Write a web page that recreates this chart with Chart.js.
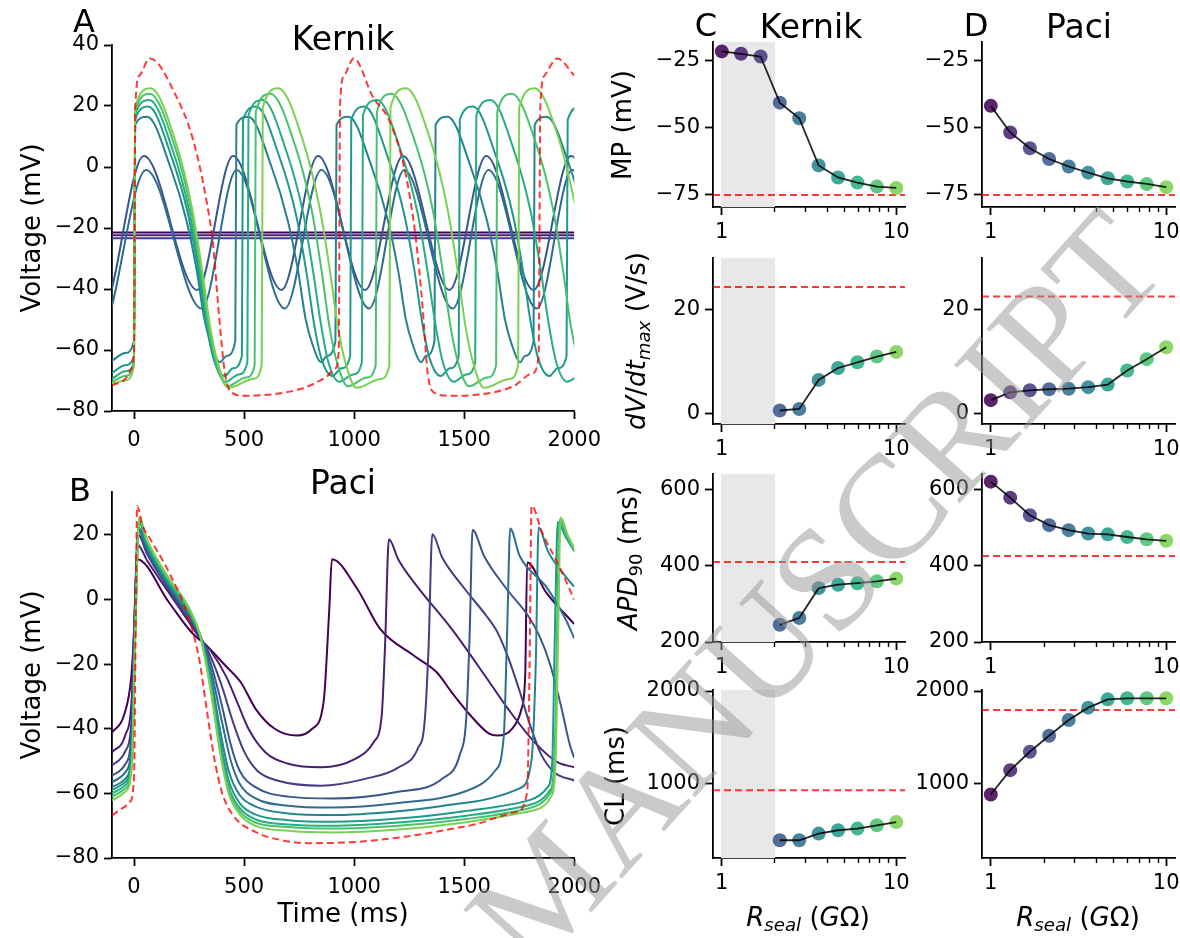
<!DOCTYPE html>
<html><head><meta charset="utf-8">
<script src="https://cdn.jsdelivr.net/npm/chart.js@4.4.0/dist/chart.umd.min.js"></script>
<style>
html,body{margin:0;padding:0;background:#fff;}
#fig{position:relative;width:1180px;height:938px;overflow:hidden;font-family:'DejaVu Sans',sans-serif;color:#000;background:#fff;}
#fig canvas{position:absolute;}
.lbl{position:absolute;white-space:nowrap;line-height:1;transform:translate(-50%,-50%);}
.sub{font-size:0.7em;position:relative;top:0.28em;}
#wm{position:absolute;white-space:nowrap;line-height:1;font-family:'Liberation Serif',serif;color:rgba(150,150,150,0.5);transform-origin:0 50%;z-index:10;pointer-events:none;}
</style></head><body><div id="fig"></div>
<script>
// ------------------------- DATA -------------------------
const timeTicks = [0, 500, 1000, 1500, 2000];
const kernikVoltTicks = [-80, -60, -40, -20, 0, 20, 40];
const paciVoltTicks = [-80, -60, -40, -20, 0, 20];
const rseal = [1, 1.29, 1.67, 2.15, 2.78, 3.59, 4.64, 5.99, 7.74, 10];
const rsealMajorTicks = [1, 10];
const rsealMinorTicks = [2, 3, 4, 5, 6, 7, 8, 9];
const mpTicks = [-75, -50, -25];
const dvdtTicks = [0, 20];
const apdTicks = [200, 400, 600];
const clTicks = [1000, 2000];

const kernikMP   = [-21.5, -22.4, -23.4, -40.6, -46.4, -64.0, -68.5, -70.4, -71.9, -72.4];
const kernikDVDT = [null, null, null, 0.6, 0.9, 6.5, 8.8, 9.9, 11.0, 11.9];
const kernikAPD  = [null, null, null, 245, 263, 341, 350, 354, 359, 366];
const kernikCL   = [null, null, null, 386, 386, 458, 494, 512, 548, 583];
const paciMP     = [-41.8, -51.7, -57.6, -61.6, -64.4, -66.7, -68.8, -70.0, -70.9, -72.1];
const paciDVDT   = [2.6, 4.1, 4.5, 4.7, 4.8, 5.1, 5.6, 8.3, 10.5, 12.8];
const paciAPD    = [620, 578, 532, 506, 493, 484, 482, 475, 469, 465];
const paciCL     = [881, 1144, 1343, 1516, 1686, 1820, 1910, 1921, 1921, 1921];
// control (baseline) values: MP, dV/dt, APD90, CL
const kernikControl = [-75, 24.4, 409.5, 927];
const paciControl   = [-75, 22.6, 425, 1794];
// Rseal range where Kernik does not fire
const kernikNoAPBand = [0.99, 2.02];

// Kernik voltage traces [time ms, mV]
const kernikV0 = [[-100,-21.5],[2000,-21.5]];
const kernikV1 = [[-100,-22.4],[2000,-22.4]];
const kernikV2 = [[-100,-23.4],[2000,-23.4]];
const kernikV3 = [[-100,-39.8],[45,3.6],[287,-40.3],[450,3.6],[670,-40.3],[836,3.6],[1050,-40.3],[1222,3.6],[1433,-40.3],[1600,3.6],[1815,-40.3],[1985,3.6],[2200,-40.3]];
const kernikV4 = [[-100,-45.5],[55,-1],[307,-46.4],[466,-1],[685,-46.4],[851,-1],[1068,-46.4],[1228,-1],[1448,-46.4],[1610,-1],[1830,-46.4],[1990,-1],[2210,-46.4]];
const kernikV5 = [[-100,-63.5],[-40,-61],[0,-57],[5,13.8],[60,16.5],[165,0],[240,-18],[285,-34],[320,-50],[350,-58],[390,-64],[420,-62],
  [460,-57],[465,13.8],[520,16.5],[625,0],[700,-18],[745,-34],[780,-50],[810,-58],[850,-64],[875,-62],
  [915,-57],[920,13.8],[975,16.5],[1080,0],[1155,-18],[1200,-34],[1235,-50],[1265,-58],[1305,-64],[1325,-62],
  [1365,-57],[1370,13.8],[1425,16.5],[1530,0],[1605,-18],[1650,-34],[1685,-50],[1715,-58],[1755,-64],[1775,-62],
  [1815,-57],[1820,13.8],[1875,16.5],[1980,0],[2055,-18]];
const kernikV6 = [[-100,-67.5],[-40,-65],[0,-62],[5,15.5],[65,19.8],[172,3],[247,-16],[292,-34],[327,-51],[362,-63],[412,-68.5],[450,-66],
  [490,-62],[495,15.5],[555,19.8],[662,3],[737,-16],[782,-34],[817,-51],[852,-63],[902,-68.5],[942,-66],
  [982,-62],[987,15.5],[1047,19.8],[1154,3],[1229,-16],[1274,-34],[1309,-51],[1344,-63],[1394,-68.5],[1435,-66],
  [1475,-62],[1480,15.5],[1540,19.8],[1647,3],[1722,-16],[1767,-34],[1802,-51],[1837,-63],[1887,-68.5],[1925,-66],
  [1965,-62],[1970,15.5],[2030,19.8]];
const kernikV7 = [[-100,-69.5],[-40,-67],[0,-64],[5,17],[70,22],[178,5],[253,-15],[298,-34],[333,-51],[368,-64],[418,-70.4],[475,-68],
  [515,-64],[520,17],[585,22],[693,5],[768,-15],[813,-34],[848,-51],[883,-64],[933,-70.4],[995,-68],
  [1035,-64],[1040,17],[1105,22],[1213,5],[1288,-15],[1333,-34],[1368,-51],[1403,-64],[1453,-70.4],[1510,-68],
  [1550,-64],[1555,17],[1620,22],[1728,5],[1803,-15],[1848,-34],[1883,-51],[1918,-64],[1968,-70.4],[2025,-68]];
const kernikV8 = [[-100,-70.5],[-40,-68.5],[0,-65],[5,18],[72,24],[184,7],[259,-14],[304,-34],[339,-52],[374,-64],[424,-71.9],[508,-69],
  [548,-65],[553,18],[620,24],[732,7],[807,-14],[852,-34],[887,-52],[922,-64],[972,-71.9],[1058,-69],
  [1098,-65],[1103,18],[1170,24],[1282,7],[1357,-14],[1402,-34],[1437,-52],[1472,-64],[1522,-71.9],[1605,-69],
  [1645,-65],[1650,18],[1717,24],[1829,7],[1904,-14],[1949,-34],[1984,-52],[2019,-64]];
const kernikV9 = [[-100,-71],[-40,-70],[0,-65],[5,19.5],[75,25.8],[190,8],[265,-14],[310,-34],[345,-52],[380,-64],[430,-72.4],[540,-69.5],
  [580,-65],[585,19.5],[655,25.8],[770,8],[845,-14],[890,-34],[925,-52],[960,-64],[1010,-72.4],[1120,-69.5],
  [1160,-65],[1165,19.5],[1235,25.8],[1350,8],[1425,-14],[1470,-34],[1505,-52],[1540,-64],[1590,-72.4],[1705,-69.5],
  [1745,-65],[1750,19.5],[1820,25.8],[1935,8],[2010,-14]];
const kernikCtrlV = [[-100,-71.6],[-40,-69.5],[-10,-66],[0,-60],[6,20],[25,30],[72,35.6],[193,23],[268,9],[329,-11],[360,-26],[383,-46],[413,-67.6],[444,-74],[500,-75],
  [760,-72.7],[870,-69],[915,-66],[930,-60],[936,20],[955,30],[998,35.6],[1085,23],[1161,15],[1236,-3],[1281,-24],[1311,-46],[1334,-67.6],[1364,-74],[1430,-75],
  [1720,-72],[1810,-67.6],[1838,-62],[1846,20],[1865,30],[1923,35.6],[2000,30]];

// Paci voltage traces [time ms, mV]
const paciV0 = [[-100,-41.1],[-46,-35.9],[-12,-23.6],[0,-10],[14,12.5],[159,-0.9],[262,-10.2],[330,-14.3],[416,-20.5],[485,-25.6],[553,-33.9],[639,-40],[741,-42.1],[810,-40],[861,-31.8],[887,-3],[899,12.5],
  [1015,3.2],[1118,-9.1],[1272,-17.4],[1375,-22.5],[1443,-28.7],[1529,-35.9],[1615,-41.6],[1649,-42.1],[1717,-40],[1760,-33.9],[1777,-23.6],[1786,11.5],[1872,2.2],[2000,-7.6]];
const paciV1 = [[-100,-47.3],[-40,-42],[-10,-30],[2,-5],[16,17],[60,12],[150,3],[250,-7],[300,-12],[350,-16],[420,-24],[470,-32],[520,-40],[600,-47.5],[700,-50.8],[850,-51.9],[1000,-49.5],[1090,-44],[1125,-36],[1140,-15],[1158,18.7],
  [1200,12.5],[1272,5.3],[1443,-9.1],[1615,-25.6],[1700,-33.9],[1820,-44.2],[1923,-50.3],[2000,-51.9]];
const paciV2 = [[-100,-51.4],[-40,-47],[-10,-36],[3,-5],[18,20.2],[60,14],[150,4],[250,-6],[300,-11.5],[350,-18],[400,-27],[450,-38],[500,-47],[560,-53],[650,-56],[850,-57.6],[1050,-55.5],[1200,-52],[1290,-46],[1320,-38],[1338,-15],[1355,20.2],
  [1400,13],[1500,3.5],[1600,-5],[1650,-10],[1700,-18],[1750,-28],[1800,-39],[1850,-48],[1910,-53.5],[2000,-56]];
const paciV3 = [[-100,-54.5],[-40,-51],[-10,-40],[4,-5],[19,21.5],[60,15],[150,4.5],[250,-5.5],[300,-11],[350,-20],[400,-33],[440,-45],[480,-53],[550,-58],[700,-61],[900,-61.6],[1200,-59.5],[1400,-55.5],[1480,-48],[1510,-36],[1525,-10],[1538,21.5],
  [1590,13.5],[1690,3.5],[1790,-5],[1840,-11],[1890,-20],[1940,-33],[1980,-45],[2000,-49]];
const paciV4 = [[-100,-56.5],[-40,-53.5],[-10,-44],[5,-5],[20,22],[60,15.5],[150,5],[250,-5],[300,-11],[350,-22],[400,-38],[440,-50],[480,-57],[550,-61.5],[700,-63.8],[900,-64.4],[1200,-63],[1500,-59.5],[1640,-53],[1680,-42],[1695,-10],[1709,22],
  [1752,13.5],[1872,4],[1960,-6],[2000,-12]];
const paciV5 = [[-100,-58],[-40,-55.5],[-10,-47],[6,-5],[21,22.3],[60,16],[150,5.5],[250,-4.5],[300,-11],[350,-24],[390,-40],[430,-53],[480,-60.5],[550,-64],[700,-66.2],[900,-66.7],[1200,-65.5],[1500,-63],[1750,-58.5],[1805,-50],[1825,-20],[1838,22.3],
  [1880,15],[1950,8],[2000,4]];
const paciV6 = [[-100,-59],[-40,-56.5],[-10,-49],[7,-5],[22,24],[60,17],[150,6],[250,-4],[300,-11],[350,-26],[390,-43],[430,-56],[480,-63],[550,-66.5],[700,-68.3],[900,-68.8],[1200,-67.8],[1500,-65.5],[1800,-62],[1880,-58],[1900,-50],[1912,-10],[1925,24],
  [1960,19.5],[2000,15]];
const paciV7 = [[-100,-60],[-40,-57.5],[-10,-50],[7,-5],[22,24.5],[60,17.5],[150,6.5],[250,-3.5],[300,-11],[350,-27],[390,-45],[430,-58],[480,-64.5],[550,-68],[700,-69.6],[900,-70],[1200,-69],[1500,-67],[1800,-63.5],[1890,-59],[1910,-50],[1922,-10],[1933,24.5],
  [1965,19.5],[2000,15]];
const paciV8 = [[-100,-61],[-40,-58.5],[-10,-51],[8,-5],[23,25],[60,18],[150,7],[250,-3],[300,-11],[350,-28],[390,-46],[430,-59],[480,-65.5],[550,-69],[700,-70.4],[900,-70.9],[1200,-70],[1500,-68],[1800,-64.5],[1890,-60],[1912,-50],[1924,-10],[1935,25],
  [1967,20],[2000,15.5]];
const paciV9 = [[-100,-62.2],[-40,-59.5],[-10,-52],[8,-5],[23,25.4],[60,18.5],[150,7.5],[250,-2.5],[300,-11],[350,-29],[390,-47],[430,-60],[480,-66.5],[550,-70],[700,-71.6],[900,-72.1],[1200,-71.2],[1500,-69],[1800,-65.5],[1895,-61],[1915,-50],[1927,-10],[1938,25.4],
  [1970,20],[2000,16]];
const paciCtrlV = [[-100,-66.8],[-50,-64.5],[-20,-62.7],[0,-55],[8,-5],[14,29],[39,22.8],[74,18.7],[159,8.4],[245,-5],[296,-18.4],[330,-33.9],[365,-49.3],[399,-59.6],[450,-66.8],[553,-72],[673,-74.5],[793,-75.4],[1015,-75],[1272,-73],[1529,-69.9],[1735,-65.8],[1786,-59.6],[1797,-20],[1806,29],[1854,20.7],[1923,11.5],[2000,0]];

// ------------------------- STYLE -------------------------
const FONT = "'DejaVu Sans', sans-serif";
const TICK_SIZE = 21;
const LABEL_SIZE = 26;
const TITLE_SIZE = 33;
const viridis10 = ['#440154','#482071','#433d84','#39568c','#2e6d8e','#26828e','#1f998a','#27ad81','#48c16e','#7ad151'];
const RED = 'rgba(255,0,0,0.78)';

const fig = document.getElementById('fig');
function addCanvas(left, top, w, h){
  const c = document.createElement('canvas');
  c.width = w; c.height = h;
  c.style.left = left + 'px'; c.style.top = top + 'px';
  c.style.width = w + 'px'; c.style.height = h + 'px';
  fig.appendChild(c);
  return c;
}
function addText(html, x, y, size, rotate){
  const d = document.createElement('div');
  d.className = 'lbl';
  d.innerHTML = html;
  d.style.left = x + 'px'; d.style.top = y + 'px';
  d.style.fontSize = size + 'px';
  if (rotate) d.style.transform = 'translate(-50%,-50%) rotate(-90deg)';
  fig.appendChild(d);
  return d;
}
const fmtNum = v => (v < 0 ? '\u2212' : '') + Math.abs(v);

function scaleOpts(type, min, max, tickVals, fitKey, fitVal, cb, pad){
  return {
    type, min, max,
    afterBuildTicks: s => { s.ticks = tickVals.map(v => ({value: v})); },
    afterFit: s => { s[fitKey] = fitVal; },
    grid: {display: true, drawOnChartArea: false, drawTicks: true, tickLength: 8, tickWidth: 1.8, tickColor: '#000'},
    border: {display: true, color: '#000', width: 1.8},
    ticks: {font: {family: FONT, size: TICK_SIZE}, color: '#000', padding: pad, autoSkip: false, maxRotation: 0, minRotation: 0, callback: cb}
  };
}

// shaded "no AP" band and short minor ticks on the log axis, both positioned through the x scale
const bandPlugin = {
  id: 'band',
  beforeDatasetsDraw(chart, args, opts){
    if (!opts || !opts.range) return;
    const {ctx, chartArea, scales} = chart;
    const x0 = scales.x.getPixelForValue(opts.range[0]);
    const x1 = scales.x.getPixelForValue(opts.range[1]);
    ctx.save();
    ctx.fillStyle = '#e8e8e8';
    ctx.fillRect(x0, chartArea.top, x1 - x0, chartArea.bottom - chartArea.top);
    ctx.restore();
  }
};
const minorTickPlugin = {
  id: 'minorTicks',
  afterDraw(chart, args, opts){
    if (!opts || !opts.values) return;
    const {ctx, chartArea, scales} = chart;
    ctx.save();
    ctx.strokeStyle = '#000';
    ctx.lineWidth = 1.4;
    opts.values.forEach(v => {
      const px = Math.round(scales.x.getPixelForValue(v)) + 0.5;
      ctx.beginPath();
      ctx.moveTo(px, chartArea.bottom);
      ctx.lineTo(px, chartArea.bottom + 5);
      ctx.stroke();
    });
    ctx.restore();
  }
};

function tracePanel(cfg){
  const canvas = addCanvas(cfg.left, cfg.top, cfg.w, cfg.h);
  const datasets = cfg.traces.map((tr, i) => ({
    data: tr.map(p => ({x: p[0], y: p[1]})),
    borderColor: viridis10[i], borderWidth: 2, pointRadius: 0,
    cubicInterpolationMode: 'monotone', order: 20 - i
  }));
  datasets.push({
    data: cfg.control.map(p => ({x: p[0], y: p[1]})),
    borderColor: RED, borderWidth: 2, borderDash: [7, 4], pointRadius: 0,
    cubicInterpolationMode: 'monotone', order: 0
  });
  new Chart(canvas, {
    type: 'line',
    data: {datasets},
    options: {
      animation: false, responsive: false, devicePixelRatio: 1,
      events: [],
      layout: {padding: {top: cfg.padTop, right: cfg.padRight, left: 0, bottom: 0}},
      plugins: {legend: {display: false}, tooltip: {enabled: false}, title: {display: false}},
      scales: {
        x: scaleOpts('linear', -100, 2000, timeTicks, 'height', cfg.xH, v => String(v), 9),
        y: scaleOpts('linear', cfg.yMin, cfg.yMax, cfg.yTicks, 'width', cfg.yW, v => fmtNum(v), 5)
      }
    }
  });
}

const LOG_MIN = 0.891, LOG_MAX = 11.22;
function metricPanel(cfg){
  const canvas = addCanvas(cfg.left, cfg.top, cfg.w, cfg.h);
  const ptColors = viridis10.map(c => c + 'dd');
  const datasets = [
    {data: [{x: LOG_MIN, y: cfg.control}, {x: LOG_MAX, y: cfg.control}], borderColor: RED, borderWidth: 2, borderDash: [7, 4], pointRadius: 0, order: 3},
    {data: rseal.map((x, i) => ({x, y: cfg.values[i]})), showLine: false, pointRadius: 7, pointBorderWidth: 0,
     pointBackgroundColor: ptColors, borderColor: 'transparent', order: 2, clip: false},
    {data: rseal.map((x, i) => ({x, y: cfg.values[i]})), borderColor: 'rgba(0,0,0,0.85)', borderWidth: 1.8, pointRadius: 0, tension: 0, spanGaps: false, order: 1}
  ];
  new Chart(canvas, {
    type: 'line',
    data: {datasets},
    plugins: [bandPlugin, minorTickPlugin],
    options: {
      animation: false, responsive: false, devicePixelRatio: 1,
      events: [],
      layout: {padding: {top: cfg.padTop, right: cfg.padRight, left: 0, bottom: 0}},
      plugins: {legend: {display: false}, tooltip: {enabled: false}, band: {range: cfg.band || null}, minorTicks: {values: rsealMinorTicks}},
      scales: {
        x: scaleOpts('logarithmic', LOG_MIN, LOG_MAX, rsealMajorTicks, 'height', cfg.xH, v => String(v), 5),
        y: scaleOpts('linear', cfg.yMin, cfg.yMax, cfg.yTicks, 'width', cfg.yW, v => fmtNum(v), 5)
      }
    }
  });
}

// ------------------------- PANELS -------------------------
tracePanel({left: 0, top: 0, w: 610, h: 450, padTop: 45, padRight: 35, yW: 112, xH: 39,
  yMin: -80, yMax: 40, yTicks: kernikVoltTicks,
  traces: [kernikV0, kernikV1, kernikV2, kernikV3, kernikV4, kernikV5, kernikV6, kernikV7, kernikV8, kernikV9], control: kernikCtrlV});
tracePanel({left: 0, top: 450, w: 610, h: 488, padTop: 42, padRight: 35, yW: 112, xH: 80,
  yMin: -80, yMax: 33.3, yTicks: paciVoltTicks,
  traces: [paciV0, paciV1, paciV2, paciV3, paciV4, paciV5, paciV6, paciV7, paciV8, paciV9], control: paciCtrlV});

const rows = [
  {top: 0,   h: 245, xH: 38, yMin: -79.5, yMax: -18, yTicks: mpTicks,   k: kernikMP,   p: paciMP,   i: 0},
  {top: 216, h: 245, xH: 37, yMin: -2,    yMax: 30,  yTicks: dvdtTicks, k: kernikDVDT, p: paciDVDT, i: 1},
  {top: 432, h: 245, xH: 35, yMin: 200,   yMax: 640, yTicks: apdTicks,  k: kernikAPD,  p: paciAPD,  i: 2},
  {top: 648, h: 290, xH: 80, yMin: 194,   yMax: 2011, yTicks: clTicks,  k: kernikCL,   p: paciCL,   i: 3}
];
rows.forEach(r => {
  metricPanel({left: 590, top: r.top, w: 330, h: r.h, padTop: 42, padRight: 15, yW: 123, xH: r.xH,
    yMin: r.yMin, yMax: r.yMax, yTicks: r.yTicks, values: r.k, control: kernikControl[r.i], band: kernikNoAPBand});
  metricPanel({left: 910, top: r.top, w: 280, h: r.h, padTop: 42, padRight: 15, yW: 72, xH: r.xH,
    yMin: r.yMin, yMax: r.yMax, yTicks: r.yTicks, values: r.p, control: paciControl[r.i]});
});

// ------------------------- TEXT -------------------------
addText('A', 84, 21, 32);
addText('Kernik', 343, 38, TITLE_SIZE);
addText('B', 80, 490, 32);
addText('Paci', 343, 482, TITLE_SIZE);
addText('C', 706, 25, 32);
addText('Kernik', 811, 26, TITLE_SIZE);
addText('D', 976, 25, 32);
addText('Paci', 1079, 26, TITLE_SIZE);
addText('Voltage (mV)', 31, 228, LABEL_SIZE, true);
addText('Voltage (mV)', 31, 675, LABEL_SIZE, true);
addText('Time (ms)', 343, 913, LABEL_SIZE);
addText('MP (mV)', 622, 125, LABEL_SIZE, true);
addText('<i>dV</i>/<i>dt</i><span class="sub"><i>max</i></span> (V/s)', 636, 341, LABEL_SIZE, true);
addText('<i>APD</i><span class="sub">90</span> (ms)', 628, 558, LABEL_SIZE, true);
addText('CL (ms)', 615, 776, LABEL_SIZE, true);
const rsealLabel = '<i>R</i><span class="sub"><i>seal</i></span> (<i>G</i>\u03A9)';
addText(rsealLabel, 808, 917, LABEL_SIZE);
addText(rsealLabel, 1078, 917, LABEL_SIZE);

// watermark
const wm = document.createElement('div');
wm.id = 'wm';
wm.textContent = 'ACCEPTED MANUSCRIPT';
wm.style.fontSize = '148px';
wm.style.left = '-41px';
wm.style.top = '1540px';
wm.style.transform = 'translate(0,-50%) rotate(-48deg)';
fig.appendChild(wm);
</script></body></html>
